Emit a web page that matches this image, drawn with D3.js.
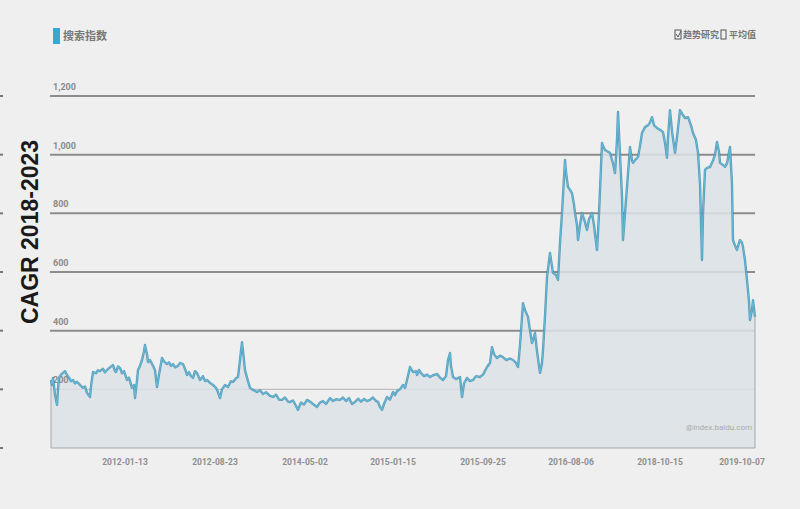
<!DOCTYPE html>
<html><head><meta charset="utf-8">
<script src="https://cdn.jsdelivr.net/npm/d3@7"></script>
<style>html,body{margin:0;padding:0;background:#efefef;}svg{display:block;}</style>
</head><body>
<script>
// period index (0 = first sample) and search index values
const periods = [1,2,3,5,7,8,9,11,13,15,17,19,21,23,25,27,30,33,35,37,40,41,43,46,48,50,53,55,57,60,63,65,66,68,70,72,74,77,79,82,84,85,87,88,90,92,94,95,97,98,100,103,105,107,109,112,114,117,119,121,123,125,128,130,133,135,137,139,141,143,145,147,149,150,153,155,157,160,163,166,168,170,172,175,178,181,183,186,188,190,192,193,195,197,200,
203,207,210,213,216,220,223,226,229,232,235,238,240,243,245,248,251,254,257,260,263,267,270,273,276,280,283,286,290,293,296,299,302,305,308,311,314,317,320,323,326,328,330,332,334,337,340,343,345,347,350,353,355,357,360,362,363,366,367,369,371,374,377,380,383,387,390,393,396,398,400,401,403,406,410,412,414,417,420,423,426,430,433,437,440,442,444,447,450,453,456,460,463,466,468,470,473,475,478,480,482,484,485,487,490,492,493,495,497,500,502,503,506,508,510,512,515,516,518,520,522,524,525,527,528,530,532,535,537,539,542,544,545,547,549,552,553,555,558,560,563,565,567,568,570,572,573,575,577,580,582,583,586,588,590,592,595,598,600,602,604,607,610,613,615,617,618,620,622,625,627,630,632,635,638,641,643,646,648,650,652,653,655,657,660,663,665,667,669,670,673,675,677,680,682,683,685,687,689,690,692,693,695,697,699,700,702,703,705];
const values  = [232,215,239,181,147,200,239,250,256,262,249,240,228,232,220,226,215,205,210,188,174,210,259,255,265,262,270,258,266,275,283,262,259,278,273,255,262,232,240,205,215,170,230,266,280,300,330,351,320,293,300,280,265,208,250,307,295,286,292,280,286,275,280,290,286,270,249,258,245,239,262,256,240,232,245,228,232,222,215,205,190,170,200,215,208,228,225,238,242,300,361,330,266,240,205,
198,191,197,184,190,178,174,182,165,164,172,158,157,162,150,130,155,148,164,158,150,140,155,160,150,170,160,166,164,172,160,170,150,157,168,158,167,160,164,172,160,157,140,130,150,174,165,191,180,194,200,215,205,232,276,265,259,262,249,266,255,245,250,242,248,252,240,232,245,300,324,280,242,235,242,174,220,239,228,232,245,242,250,276,290,344,320,307,315,310,300,305,300,290,276,350,494,470,447,400,358,380,392,330,256,290,334,450,583,665,620,597,590,573,700,801,982,940,890,880,869,830,801,760,709,760,801,770,743,780,801,760,730,675,800,1040,1030,1016,1010,1006,970,937,1050,1146,1000,856,709,800,890,1026,980,972,985,992,1030,1074,1094,1100,1110,1128,1100,1091,1085,1077,1040,989,1060,1152,1080,1006,1060,1152,1140,1125,1128,1100,1074,1050,1006,900,641,800,948,955,958,980,1000,1043,1010,972,965,958,970,1026,900,709,690,675,700,709,700,685,640,573,500,436,470,504,447];
const yTicks = [0,200,400,600,800,1000,1200];
const xTickPeriods = [75,165,255,343,433,521,610,692];
const xTickLabels = ["2012-01-13","2012-08-23","2014-05-02","2015-01-15","2015-09-25","2016-08-06","2018-10-15","2019-10-07"];
const legendLabel = "搜索指数";
const optionLabels = ["趋势研究","平均值"];
const sideTitle = "CAGR 2018-2023";
const sourceLabel = "@index.baidu.com";

const W = 800, H = 509;
const m = {left:50, right:45, top:96, bottom:61};
const svg = d3.select("body").append("svg").attr("width",W).attr("height",H);
svg.append("rect").attr("width",W).attr("height",H).attr("fill","#efefef");

const x = d3.scaleLinear().domain([0,705]).range([m.left, W-m.right]);
const y = d3.scaleLinear().domain([0,1200]).range([H-m.bottom, m.top]);

// left edge marks
svg.append("g").selectAll("line").data(yTicks).join("line")
  .attr("x1",0).attr("x2",3).attr("y1",d=>y(d)).attr("y2",d=>y(d))
  .attr("stroke","#777").attr("stroke-width",2);

// gridlines
const grid = svg.append("g");
grid.selectAll("line").data(yTicks.filter(d=>d>0)).join("line")
  .attr("x1",m.left).attr("x2",W-m.right)
  .attr("y1",d=>y(d)).attr("y2",d=>y(d))
  .attr("stroke",d=>d>=400?"#8c8c8c":"#b4b4b4")
  .attr("stroke-width",d=>d>=400?2:1);

// area
const pts = periods.map((p,i)=>[p,values[i]]);
const area = d3.area().x(d=>x(d[0])).y0(y(0)).y1(d=>y(d[1]));
svg.append("path").datum(pts).attr("d",area).attr("fill","#dbe2e6").attr("fill-opacity",0.85)
  .attr("stroke","#a6a9ab").attr("stroke-width",1);

// y labels
svg.append("g").selectAll("text").data(yTicks.filter(d=>d>0)).join("text")
  .attr("x",m.left+3).attr("y",d=>y(d)-6)
  .attr("font-family","Roboto, sans-serif").attr("font-size",9).attr("font-weight","bold")
  .attr("fill","#8a8a8a").text(d=>d3.format(",")(d));

// line
const line = d3.line().x(d=>x(d[0])).y(d=>y(d[1]));
svg.append("path").datum(pts).attr("d",line).attr("fill","none")
  .attr("stroke","#2f7f9f").attr("stroke-width",2.4).attr("stroke-linejoin","round").attr("stroke-opacity",0.7);
svg.append("path").datum(pts).attr("d",line).attr("fill","none")
  .attr("stroke","#62b8d8").attr("stroke-width",1.2).attr("stroke-linejoin","round");

// x labels
svg.append("g").selectAll("text").data(xTickPeriods).join("text")
  .attr("x",d=>x(d)).attr("y",H-m.bottom+17).attr("text-anchor","middle")
  .attr("font-family","Roboto, sans-serif").attr("font-size",8.5).attr("font-weight","bold")
  .attr("fill","#8e8e8e").text((d,i)=>xTickLabels[i]);

// legend
svg.append("rect").attr("x",53).attr("y",28).attr("width",7).attr("height",16).attr("fill","#3aa7d2");
svg.append("text").attr("x",63).attr("y",40).attr("font-family","Noto Sans CJK SC").attr("font-size",11)
  .attr("font-weight","bold").attr("fill","#777").text(legendLabel);

// options top right
const opt = svg.append("g").attr("font-family","Noto Sans CJK SC").attr("font-size",9).attr("font-weight","bold").attr("fill","#777");
opt.append("rect").attr("x",675).attr("y",30).attr("width",6).attr("height",9).attr("fill","none").attr("stroke","#555").attr("stroke-width",1);
opt.append("path").attr("d","M676,34 L678,37 L681,31").attr("fill","none").attr("stroke","#555").attr("stroke-width",1);
opt.append("text").attr("x",683).attr("y",38).text(optionLabels[0]);
opt.append("rect").attr("x",721).attr("y",30).attr("width",5).attr("height",9).attr("fill","none").attr("stroke","#555").attr("stroke-width",1);
opt.append("text").attr("x",729).attr("y",38).text(optionLabels[1]);

// source
svg.append("text").attr("x",W-m.right-3).attr("y",430).attr("text-anchor","end")
  .attr("font-family","Roboto, sans-serif").attr("font-size",8).attr("fill","#aaa").text(sourceLabel);

// side title
svg.append("text").attr("transform","translate(38,232) rotate(-90)").attr("text-anchor","middle")
  .attr("font-family","Liberation Sans, sans-serif").attr("font-weight","bold").attr("font-size",23)
  .attr("fill","#1a1a1a").text(sideTitle);
</script>
</body></html>
